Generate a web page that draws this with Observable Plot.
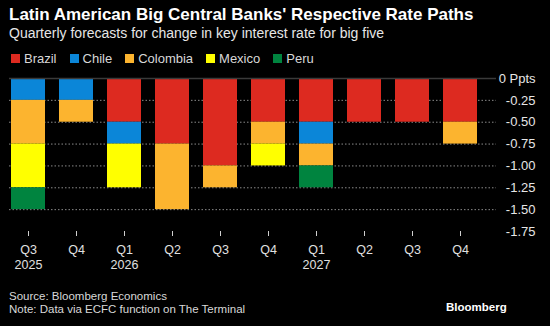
<!DOCTYPE html>
<html>
<head>
<meta charset="utf-8">
<script src="https://cdn.jsdelivr.net/npm/d3@7"></script>
<script src="https://cdn.jsdelivr.net/npm/@observablehq/plot@0.6"></script>
<style>
  html, body { margin: 0; padding: 0; background: #000; }
  #wrap { position: relative; width: 550px; height: 326px; background: #000; overflow: hidden; font-family: "Liberation Sans", Arial, sans-serif; color: #e6e6e6; }
  #title { position: absolute; left: 9px; top: 5px; font-size: 17px; font-weight: bold; color: #fff; white-space: nowrap; }
  #subtitle { position: absolute; left: 9px; top: 25px; font-size: 14px; color: #e6e6e6; white-space: nowrap; }
  #legend { position: absolute; left: 11px; top: 51px; font-size: 13px; color: #d8d8d8; display: flex; white-space: nowrap; }
  #legend .item { display: flex; align-items: center; margin-right: 13px; }
  #legend .sw { width: 9px; height: 9px; margin-right: 4px; }
  #chart { position: absolute; left: 0; top: 70px; }
  #source { position: absolute; left: 9px; top: 290px; font-size: 11.5px; line-height: 13px; color: #d8d8d8; white-space: nowrap; }
  #logo { position: absolute; left: 446px; top: 301px; font-size: 11.5px; font-weight: bold; color: #fff; }
</style>
</head>
<body>
<div id="wrap">
  <div id="title">Latin American Big Central Banks' Respective Rate Paths</div>
  <div id="subtitle">Quarterly forecasts for change in key interest rate for big five</div>
  <div id="legend"></div>
  <div id="chart"></div>
  <div id="source">Source: Bloomberg Economics<br>Note: Data via ECFC function on The Terminal</div>
  <div id="logo">Bloomberg</div>
</div>
<script>
const quarters = ["Q3 2025","Q4 2025","Q1 2026","Q2 2026","Q3 2026","Q4 2026","Q1 2027","Q2 2027","Q3 2027","Q4 2027"];
const tickLabels = ["Q3\n2025","Q4","Q1\n2026","Q2","Q3","Q4","Q1\n2027","Q2","Q3","Q4"];
const countries = ["Brazil","Chile","Colombia","Mexico","Peru"];
const colors = ["#dd2a20","#0b86d8","#fcb42f","#ffff00","#00843f"];
const brazil   = [0, 0, -0.5, -0.75, -1.0, -0.5, -0.5, -0.5, -0.5, -0.5];
const chile    = [-0.25, -0.25, -0.25, 0, 0, 0, -0.25, 0, 0, 0];
const colombia = [-0.5, -0.25, 0, -0.75, -0.25, -0.25, -0.25, 0, 0, -0.25];
const mexico   = [-0.5, 0, -0.5, 0, 0, -0.25, 0, 0, 0, 0];
const peru     = [-0.25, 0, 0, 0, 0, 0, -0.25, 0, 0, 0];
const yTicks = [0, -0.25, -0.5, -0.75, -1.0, -1.25, -1.5, -1.75];
const gridTicks = [-0.25, -0.5, -0.75, -1.0, -1.25, -1.5];

const series = [brazil, chile, colombia, mexico, peru];
const data = [];
countries.forEach((c, i) => {
  quarters.forEach((q, j) => {
    data.push({country: c, quarter: q, value: series[i][j]});
  });
});

// legend
const lg = document.getElementById("legend");
countries.forEach((c, i) => {
  const it = document.createElement("div");
  it.className = "item";
  it.innerHTML = `<span class="sw" style="background:${colors[i]}"></span><span>${c}</span>`;
  lg.appendChild(it);
});

const labelMap = new Map(quarters.map((q, i) => [q, tickLabels[i]]));

const chart = Plot.plot({
  width: 550,
  height: 205,
  marginLeft: 9,
  marginRight: 54,
  marginTop: 8,
  marginBottom: 44,
  style: {background: "#000", color: "#e0e0e0", fontFamily: "Liberation Sans, Arial, sans-serif"},
  x: {domain: quarters, paddingInner: 0.29, paddingOuter: 0, insetLeft: 0.3, insetRight: 17.3, label: null},
  y: {domain: [-1.75, 0], label: null},
  color: {domain: countries, range: colors},
  marks: [
    Plot.ruleY(gridTicks, {stroke: "#8a8a8a", strokeDasharray: "1.5,2", strokeWidth: 1}),
    Plot.barY(data, {x: "quarter", y: "value", fill: "country", order: countries}),
    Plot.ruleY([0], {stroke: "#3a3a3a", strokeWidth: 1.5}),
    Plot.axisX({tickSize: 5, tickPadding: 7, stroke: "#cfcfcf", fontSize: 12.5, lineHeight: 1.2, fill: "#e0e0e0", tickFormat: d => labelMap.get(d)}),
    Plot.axisY({anchor: "right", ticks: yTicks, tickSize: 0, tickPadding: 39, textAnchor: "end", fontSize: 13, fill: "#e6e6e6",
      tickFormat: d => d === 0 ? "0 Ppts" : d.toFixed(2)})
  ]
});
document.getElementById("chart").appendChild(chart);
</script>
</body>
</html>
